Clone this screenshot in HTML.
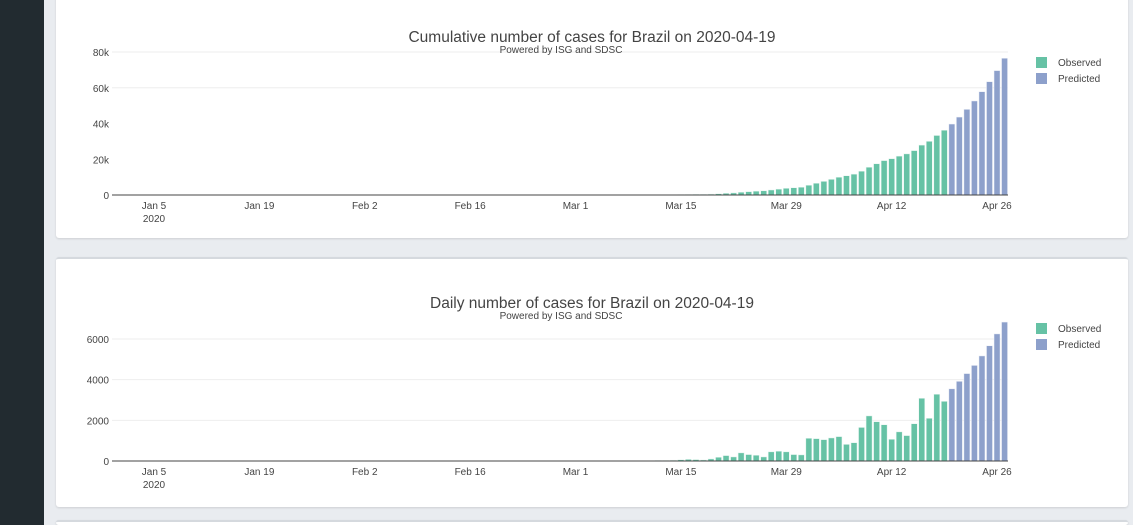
<!DOCTYPE html>
<html><head><meta charset="utf-8"><style>
html,body{margin:0;padding:0;width:1133px;height:525px;overflow:hidden;background:#e9ecf0;font-family:"Liberation Sans","DejaVu Sans",sans-serif;position:relative}
.side{position:absolute;left:0;top:0;width:44px;height:525px;background:#222b30}
.card{position:absolute;left:56px;width:1072px;background:#fff;border-radius:3px;box-shadow:0 1px 2px rgba(0,0,0,.12)}
svg{position:absolute;left:0;top:0}
</style></head><body>
<div class="side"></div>
<div class="card" style="top:-5px;height:243px"></div>
<div class="card" style="top:257px;height:248px;border-top:2px solid #d5d9de"></div>
<div class="card" style="top:520px;height:3px;border-top:2px solid #d5d9de"></div>
<svg id="s" width="1133" height="525" xmlns="http://www.w3.org/2000/svg" font-family="Liberation Sans, DejaVu Sans, sans-serif"></svg>
<script>
var daily={};
var early=[[52,2],[53,1],[54,0],[55,1],[56,0],[57,2],[58,0],[59,5],[60,5],[61,5],[62,6],[63,3],[64,5],[65,6],[66,12],[67,25],[68,23],[69,40],[70,60],[71,80],[72,70]];
early.forEach(function(e){daily[e[0]]=e[1];});
var d=[50,100,183,267,200,400,317,283,200,450,483,450,317,300,1117,1100,1050,1133,1200,817,900,1650,2217,1933,1783,1067,1433,1250,1833,3083,2100,3283,2933];
for(var i=0;i<d.length;i++)daily[73+i]=d[i];
var pd=[3550,3917,4300,4700,5167,5667,6250,6833];
var pc=[39700,43600,47900,52600,57800,63400,69600,76500];
var cum={},c=0;
for(var k=52;k<=105;k++){c+=(daily[k]||0);cum[k]=c;}
var s=document.getElementById('s'),h='';
function X(day){return 154+day*7.527;}
var ticks=['Jan 5','Jan 19','Feb 2','Feb 16','Mar 1','Mar 15','Mar 29','Apr 12','Apr 26'];
function chart(base,scale,yt,ytl,grids,title,data,pdata,ly){
  grids.forEach(function(v){var y=base-v*scale;h+='<line x1="112" x2="1008" y1="'+y+'" y2="'+y+'" stroke="#eee" stroke-width="1"/>';});
  yt.forEach(function(v,i){var y=base-v*scale;h+='<text x="109" y="'+(y+4)+'" text-anchor="end" font-size="10" fill="#444">'+ytl[i]+'</text>';});
  for(var k=52;k<=105;k++){var v=data[k]||0;if(v<=0)continue;var hh=v*scale;h+='<rect x="'+(X(k)-3)+'" y="'+(base-hh)+'" width="6" height="'+hh+'" fill="#66c2a5" stroke="#e8f6f1" stroke-width="0.5"/>';}
  pdata.forEach(function(v,i){var hh=v*scale;h+='<rect x="'+(X(106+i)-3)+'" y="'+(base-hh)+'" width="6" height="'+hh+'" fill="#8da0cb" stroke="#eef1f8" stroke-width="0.5"/>';});
  h+='<line x1="112" x2="1008" y1="'+base+'" y2="'+base+'" stroke="#444" stroke-width="1"/>';
  ticks.forEach(function(t,i){h+='<text x="'+X(i*14)+'" y="'+(base+14)+'" text-anchor="middle" font-size="10" fill="#444">'+t+'</text>';});
  h+='<text x="'+X(0)+'" y="'+(base+27)+'" text-anchor="middle" font-size="10" fill="#444">2020</text>';
  h+='<text x="592" y="'+(base-153)+'" text-anchor="middle" font-size="15.5" fill="#444">'+title+'</text>';
  h+='<text x="561" y="'+(base-142)+'" text-anchor="middle" font-size="10" fill="#444">Powered by ISG and SDSC</text>';
  h+='<rect x="1036" y="'+(ly-5)+'" width="11" height="11" fill="#66c2a5"/><text x="1058" y="'+(ly+4)+'" font-size="10" fill="#444">Observed</text>';
  h+='<rect x="1036" y="'+(ly+11)+'" width="11" height="11" fill="#8da0cb"/><text x="1058" y="'+(ly+20)+'" font-size="10" fill="#444">Predicted</text>';
}
chart(195,143/80000,[0,20000,40000,60000,80000],['0','20k','40k','60k','80k'],[60000,80000],'Cumulative number of cases for Brazil on 2020-04-19',cum,pc,62);
chart(461,122/6000,[0,2000,4000,6000],['0','2000','4000','6000'],[2000,4000,6000],'Daily number of cases for Brazil on 2020-04-19',daily,pd,328);
s.innerHTML=h;
</script>
</body></html>
